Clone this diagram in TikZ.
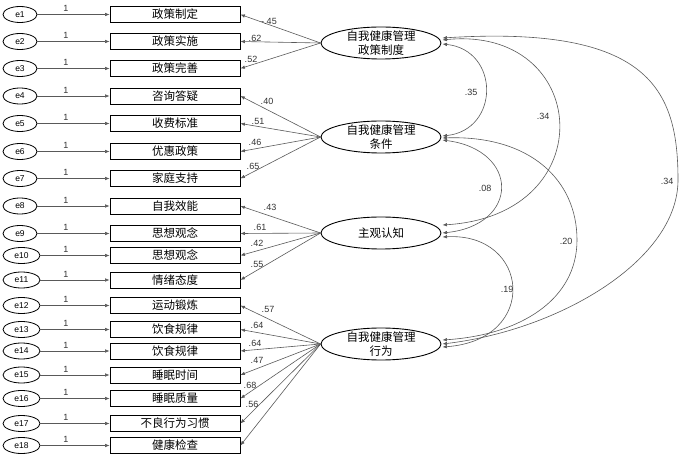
\documentclass[tikz,border=0pt]{standalone}
\usepackage{fontspec}
\setmainfont{Liberation Sans}
\newfontfamily\cjk{Noto Sans CJK SC}
\usetikzlibrary{arrows.meta,shapes.geometric,calc}
\begin{document}
\begin{tikzpicture}[x=1bp,y=-1bp,
  errnode/.style={ellipse,draw,line width=0.8bp,minimum height=16bp,inner sep=0pt,font=\fontsize{8.5bp}{10bp}\selectfont},
  obsbox/.style={draw,line width=0.8bp,minimum width=130bp,minimum height=16bp,inner sep=0pt,font=\cjk\fontsize{11.5bp}{13bp}\selectfont},
  latnode/.style={ellipse,draw,line width=0.9bp,minimum width=120bp,minimum height=32bp,inner sep=0pt},
  lattext/.style={align=center,inner sep=0pt,font=\cjk\fontsize{11.5bp}{14.5bp}\selectfont},
  conn/.style={line width=0.6bp,draw=black!65},
  tip/.style={-{Latex[length=4.5bp,width=3.5bp]}},
  dtip/.style={{Latex[length=4.5bp,width=3.5bp]}-{Latex[length=4.5bp,width=3.5bp]}},
  num/.style={inner sep=0pt,font=\fontsize{9bp}{10bp}\selectfont,text=black!80}
]
\useasboundingbox (0,0) rectangle (682,455);
\foreach \i/\y/\t/\w in {1/14.5/政策制定/34,2/41.5/政策实施/34,3/68.5/政策完善/34,4/96/咨询答疑/34,5/123.5/收费标准/34,6/151.5/优惠政策/34,7/178.5/家庭支持/34,8/206/自我效能/34,9/233.5/思想观念/34,10/255.5/思想观念/37,11/280/情绪态度/37,12/305.5/运动锻炼/37,13/329.5/饮食规律/37,14/351/饮食规律/37,15/375/睡眠时间/37,16/398.5/睡眠质量/37,17/423.5/不良行为习惯/37,18/445.5/健康检查/37}{
  \node[obsbox] (b\i) at (175,\y) {\t};
  \node[errnode,minimum width=\w bp] (e\i) at (3+\w/2,\y) {e\i};
  \draw[conn,tip] (e\i.east) -- (b\i.west);
  \node[num] (one\i) at (66,\y-6) {1};
}
\node[latnode] (L1) at (381,43) {};
\node[lattext] (T1) at (L1.center) {自我健康管理\\政策制度};
\node[latnode] (L2) at (381,137) {};
\node[lattext] (T2) at (L2.center) {自我健康管理\\条件};
\node[latnode] (L3) at (381,233) {};
\node[lattext] (T3) at (L3.center) {主观认知};
\node[latnode] (L4) at (381,344) {};
\node[lattext] (T4) at (L4.center) {自我健康管理\\行为};
\foreach \i in {1,2,3}{\draw[conn,tip] (L1.west) -- (b\i.east);}
\foreach \i in {4,5,6,7}{\draw[conn,tip] (L2.west) -- (b\i.east);}
\foreach \i in {8,9,10,11}{\draw[conn,tip] (L3.west) -- (b\i.east);}
\foreach \i in {12,...,18}{\draw[conn,tip] (L4.west) -- (b\i.east);}
\foreach \n/\x/\y/\t in {a1/269/21/-.45,a2/255/38/.62,a3/251/59/.52,a4/267/101/.40,a5/258/121/.51,a6/255/142/.46,a7/253/166/.65,a8/270/207/.43,a9/260/227/.61,a10/257/243/.42,a11/257/264/.55,a12/268/309/.57,a13/257/325/.64,a14/255/343/.64,a15/257/360/.47,a16/250/385/.68,a17/252/404/.56}{
  \node[num] (\n) at (\x,\y) {\t};
}
\coordinate (m3) at (678,180);
\coordinate (m5) at (577,240);
\draw[conn,dtip] ($(L1.east)+(1,1)$) .. controls (500,50) and (500,130) .. ($(L2.east)+(1,-1)$);
\draw[conn,dtip] ($(L1.east)+(1,-3)$) .. controls (590,25) and (605,215) .. ($(L3.east)+(1,-8)$);
\draw[conn,dtip] ($(L1.east)+(1,-5)$) .. controls (650,25) and (678,90) .. (m3) .. controls (678,260) and (560,330) .. ($(L4.east)+(1,0)$);
\draw[conn,dtip] ($(L2.east)+(1,3)$) .. controls (520,150) and (520,225) .. ($(L3.east)+(1,0)$);
\draw[conn,dtip] ($(L2.east)+(1,1)$) .. controls (530,135) and (577,180) .. (m5) .. controls (577,300) and (520,335) .. ($(L4.east)+(1,-4)$);
\draw[conn,dtip] ($(L3.east)+(1,4)$) .. controls (530,232) and (540,340) .. ($(L4.east)+(1,3)$);
\node[num] (c1) at (471,92) {.35};
\node[num] (c2) at (543,116) {.34};
\node[num] (c3) at (667,181) {.34};
\node[num] (c4) at (485,188) {.08};
\node[num] (c5) at (566,241) {.20};
\node[num] (c6) at (507,289) {.19};
\end{tikzpicture}
\end{document}
